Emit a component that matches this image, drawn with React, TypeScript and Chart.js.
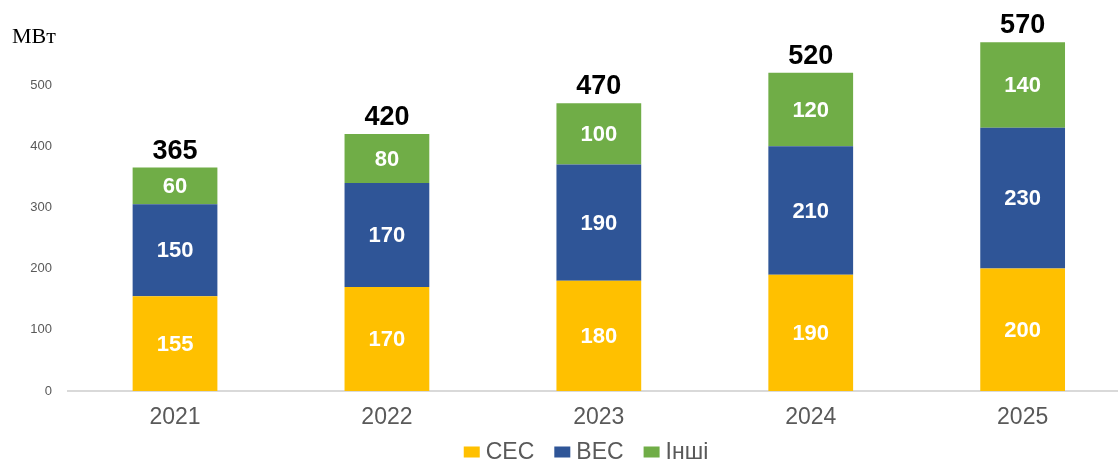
import React, { useEffect, useRef } from "react";
import { Chart, registerables } from "chart.js";

Chart.register(...registerables);

const years = ["2021", "2022", "2023", "2024", "2025"];
const sesValues = [155, 170, 180, 190, 200];
const wesValues = [150, 170, 190, 210, 230];
const otherValues = [60, 80, 100, 120, 140];
const totals = [365, 420, 470, 520, 570];
const yTicks = [0, 100, 200, 300, 400, 500];
const seriesNames = ["СЕС", "ВЕС", "Інші"];
const seriesColors = ["#FFC000", "#2F5597", "#70AD47"];
const unitLabel = "МВт";

const SANS = "'Liberation Sans', Arial, sans-serif";

const labelsPlugin = {
  id: "barLabels",
  afterDatasetsDraw(chart: any) {
    const ctx = chart.ctx;
    ctx.save();
    ctx.textAlign = "center";
    chart.data.datasets.forEach((ds: any, di: number) => {
      const meta = chart.getDatasetMeta(di);
      meta.data.forEach((el: any, i: number) => {
        const v = ds.data[i].y;
        const cy = (el.y + el.base) / 2;
        ctx.fillStyle = "#FFFFFF";
        ctx.font = `bold 22px ${SANS}`;
        ctx.textBaseline = "middle";
        ctx.fillText(String(v), el.x, cy + 1);
      });
    });
    const lastMeta = chart.getDatasetMeta(chart.data.datasets.length - 1);
    lastMeta.data.forEach((el: any, i: number) => {
      ctx.fillStyle = "#000000";
      ctx.font = `bold 27px ${SANS}`;
      ctx.textBaseline = "alphabetic";
      ctx.fillText(String(totals[i]), el.x, el.y - 9);
    });
    ctx.restore();
  },
  afterDraw(chart: any) {
    const ctx = chart.ctx;
    ctx.save();
    ctx.fillStyle = "#000000";
    ctx.font = "22px 'Liberation Serif', 'Times New Roman', serif";
    ctx.textAlign = "left";
    ctx.textBaseline = "alphabetic";
    ctx.fillText(unitLabel, 12, 43);
    ctx.font = `23px ${SANS}`;
    const boxW = 16;
    const boxH = 11;
    const gap = 6;
    const spacing = 20;
    const widths = seriesNames.map((n) => boxW + gap + ctx.measureText(n).width);
    const total = widths.reduce((a, b) => a + b, 0) + spacing * (widths.length - 1);
    let x = 586 - total / 2;
    const cy = 452;
    seriesNames.forEach((n, i) => {
      ctx.fillStyle = seriesColors[i];
      ctx.fillRect(x, cy - boxH / 2, boxW, boxH);
      ctx.fillStyle = "#595959";
      ctx.textBaseline = "middle";
      ctx.textAlign = "left";
      ctx.fillText(n, x + boxW + gap, cy + 1);
      x += widths[i] + spacing;
    });
    ctx.restore();
  },
};

export default function App() {
  const canvasRef = useRef<HTMLCanvasElement | null>(null);

  useEffect(() => {
    if (!canvasRef.current) return;
    const seriesValues = [sesValues, wesValues, otherValues];
    const chart = new Chart(canvasRef.current, {
      type: "bar",
      data: {
        datasets: seriesValues.map((vals, si) => ({
          label: seriesNames[si],
          data: vals.map((v, i) => ({ x: i, y: v })),
          backgroundColor: seriesColors[si],
          borderWidth: 0,
          barPercentage: 0.4,
          categoryPercentage: 1,
        })),
      },
      options: {
        animation: false,
        responsive: false,
        maintainAspectRatio: false,
        layout: { padding: { top: 23, right: 0, left: 0, bottom: 0 } },
        plugins: {
          legend: { display: false },
          tooltip: { enabled: false },
        },
        scales: {
          x: {
            type: "linear",
            stacked: true,
            offset: false,
            min: -0.505,
            max: 4.45,
            grid: { display: false, drawTicks: false, offset: false },
            border: { display: true, color: "#D9D9D9", width: 2 },
            afterBuildTicks: (scale: any) => {
              scale.ticks = years.map((_, i) => ({ value: i }));
            },
            afterFit: (scale: any) => {
              scale.height = 70;
            },
            ticks: {
              padding: 13,
              color: "#595959",
              font: { family: SANS, size: 23 },
              callback: (v: any) => years[Math.round(Number(v))] ?? "",
              maxRotation: 0,
              autoSkip: false,
            },
          },
          y: {
            stacked: true,
            min: 0,
            max: 600,
            grid: { display: false, drawTicks: false },
            border: { display: false },
            afterBuildTicks: (scale: any) => {
              scale.ticks = yTicks.map((v) => ({ value: v }));
            },
            afterFit: (scale: any) => {
              scale.width = 68;
            },
            ticks: {
              padding: 16,
              color: "#595959",
              font: { family: SANS, size: 13 },
            },
          },
        },
      },
      plugins: [labelsPlugin],
    });
    return () => chart.destroy();
  }, []);

  return (
    <div style={{ position: "absolute", left: 0, top: 0, width: 1118, height: 461, background: "#fff" }}>
      <canvas ref={canvasRef} width={1118} height={461} style={{ display: "block" }} />
    </div>
  );
}
